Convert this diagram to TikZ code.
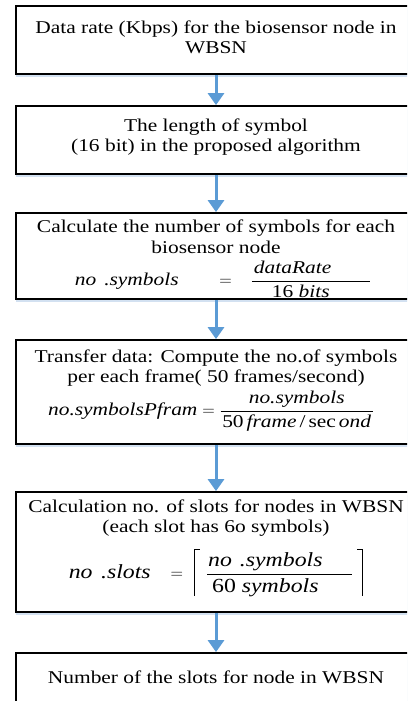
\documentclass[tikz,border=0pt]{standalone}
\usepackage{fontspec}
\setmainfont{Liberation Serif}[FakeStretch=1.19]
\usetikzlibrary{arrows.meta,shadows}
\definecolor{arrowblue}{HTML}{5B9BD5}
\definecolor{shadowblue}{HTML}{C9DAEE}
\newcommand{\mi}[1]{\mbox{\itshape #1}}
\newcommand{\rmt}[1]{\mbox{#1}}
\newcommand{\mib}[1]{\mbox{\fontsize{20}{24}\selectfont\itshape #1}}
\newcommand{\rmb}[1]{\mbox{\fontsize{20}{24}\selectfont #1}}
\newcommand{\lcb}{\mbox{\rule[-17.5pt]{0.8pt}{47pt}\rule[28.7pt]{5pt}{0.8pt}}}
\newcommand{\rcb}{\mbox{\rule[28.7pt]{5pt}{0.8pt}\rule[-17.5pt]{0.8pt}{47pt}}}
\begin{document}
\begin{tikzpicture}[x=1pt,y=-1pt,
  flowbox/.style={draw=black, line width=1.8pt, fill=white, minimum width=400pt,
    align=center, inner sep=0pt, font=\fontsize{18}{20.5}\selectfont,
    drop shadow={shadow xshift=0pt, shadow yshift=-2.5pt, fill=shadowblue, opacity=0.8}},
  flowarrow/.style={draw=arrowblue, line width=3pt, -{Triangle[width=16pt,length=12pt]}}]
\useasboundingbox (0,0) rectangle (407,701);
\fill[white] (0,0) rectangle (407,701);
\clip (0,0) rectangle (407,701);

\node[flowbox, minimum height=68pt] (b1) at (216,40)
  {Data rate (Kbps) for the biosensor node in\\ WBSN\rule[-6pt]{0pt}{6pt}};
\node[flowbox, minimum height=68pt] (b2) at (216,140)
  {The length of symbol\\ (16 bit) in the proposed algorithm\rule[-10pt]{0pt}{10pt}};
\node[flowbox, minimum height=86pt] (b3) at (216,256)
  {\rule{0pt}{18pt}Calculate the number of symbols for each\\ biosensor node\\[7pt]
   $\displaystyle \hspace{14pt}\mi{no\hspace{8pt}.symbols}\hspace{36pt}=\hspace{14pt}
   \frac{\makebox[118pt][l]{\hspace{2pt}\mi{dataRate}}}{\makebox[118pt][l]{\hspace{20pt}\rmt{16 }\mi{bits}}}$};
\node[flowbox, minimum height=104pt] (b4) at (216,392)
  {Transfer data: Compute the no.of symbols\\ per each frame( 50 frames/second)\\[4pt]
   $\displaystyle \mi{no.symbolsPfram}\;{=}\;
   \frac{\mi{no.symbols}}{\makebox[152pt]{\rmt{50\,}\mi{frame}\rmt{\,/\,sec\,}\mi{ond}}}\hspace{10pt}$\rule[-19pt]{0pt}{19pt}};
\node[flowbox, minimum height=120pt] (b5) at (216,552)
  {Calculation no. of slots for nodes in WBSN\\ (each slot has 6o symbols)\\[11pt]
   $\displaystyle \mib{no\hspace{8.5pt}.slots}\hspace{20pt}{=}\hspace{11pt}
   \lcb\hspace{6pt}
   \frac{\makebox[145pt][l]{\hspace{1pt}\mib{no\hspace{8pt}.symbols}}}{\raisebox{-2pt}{\makebox[145pt][l]{\hspace{5pt}\rmb{60 }\mib{symbols}}}}\hspace{4pt}\rcb$\rule[-26pt]{0pt}{26pt}};
\node[flowbox, minimum height=52pt] (b6) at (216,679)
  {Number of the slots for node in WBSN\rule[-4.3pt]{0pt}{4.3pt}};

\draw[flowarrow] (b1.south) -- (b2.north);
\draw[flowarrow] (b2.south) -- (b3.north);
\draw[flowarrow] (b3.south) -- (b4.north);
\draw[flowarrow] (b4.south) -- (b5.north);
\draw[flowarrow] (b5.south) -- (b6.north);
\end{tikzpicture}
\end{document}
